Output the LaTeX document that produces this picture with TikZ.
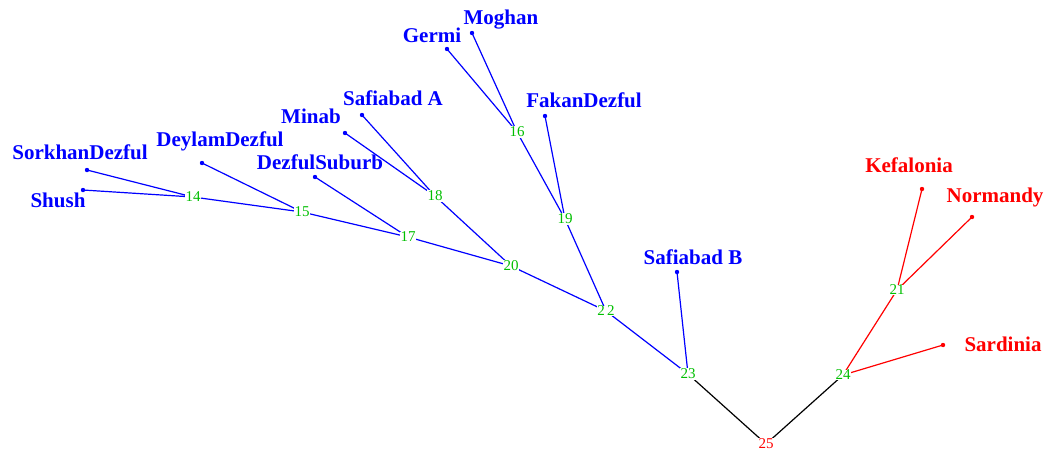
\documentclass[tikz,border=0pt]{standalone}
\usepackage{fontspec}
\setmainfont{Liberation Serif}
\begin{document}
\begin{tikzpicture}[x=1pt,y=-1pt,
  leaflab/.style={font=\fontsize{21}{21}\selectfont\bfseries, text=#1, inner sep=0pt},
  inode/.style={font=\fontsize{15}{15}\selectfont, text=green!75!black, fill=white, inner sep=0.5pt},
  rnode/.style={font=\fontsize{15}{15}\selectfont, text=red, fill=white, inner sep=0.5pt},
  bedge/.style={draw=blue, line width=1.2pt},
  redge/.style={draw=red, line width=1.2pt},
  kedge/.style={draw=black, line width=1.2pt},
  bdot/.style={fill=blue},
  rdot/.style={fill=red}]
\useasboundingbox (0,0) rectangle (1051,451);
% leaf points
\coordinate (sork) at (87,170);
\coordinate (shush) at (83,190);
\coordinate (deyl) at (202,163);
\coordinate (dsub) at (315,177);
\coordinate (minab) at (345,133);
\coordinate (safa) at (362,115);
\coordinate (germi) at (447,49);
\coordinate (moghan) at (472,33);
\coordinate (fakan) at (545,116);
\coordinate (safb) at (677,272);
\coordinate (kef) at (922,189);
\coordinate (norm) at (972,217);
\coordinate (sard) at (943,345);
% internal node positions
\coordinate (c14) at (193,197);
\coordinate (c15) at (302,212);
\coordinate (c17) at (408,237);
\coordinate (c18) at (435,196);
\coordinate (c20) at (511,266);
\coordinate (c16) at (517,132);
\coordinate (c19) at (565,219);
\coordinate (c22) at (606,311);
\coordinate (c23) at (688,374);
\coordinate (c25) at (766,444);
\coordinate (c24) at (843,375);
\coordinate (c21) at (897,290);
% edges
\path[bedge] (c14) -- (sork) (c14) -- (shush) (c15) -- (c14) (c15) -- (deyl)
  (c17) -- (c15) (c17) -- (dsub) (c18) -- (minab) (c18) -- (safa)
  (c20) -- (c17) (c20) -- (c18) (c16) -- (germi) (c16) -- (moghan)
  (c19) -- (c16) (c19) -- (fakan) (c22) -- (c20) (c22) -- (c19)
  (c23) -- (c22) (c23) -- (safb);
\path[kedge] (c25) -- (c23) (c25) -- (c24);
\path[redge] (c24) -- (c21) (c24) -- (sard) (c21) -- (kef) (c21) -- (norm);
% dots
\foreach \p in {sork,shush,deyl,dsub,minab,safa,germi,moghan,fakan,safb}
  \fill[bdot] (\p) circle (2.2);
\foreach \p in {kef,norm,sard}
  \fill[rdot] (\p) circle (2.2);
% internal labels
\node[inode] (n14) at (c14) {14};
\node[inode] (n15) at (c15) {15};
\node[inode] (n17) at (c17) {17};
\node[inode] (n18) at (c18) {18};
\node[inode] (n20) at (c20) {20};
\node[inode] (n16) at (c16) {16};
\node[inode] (n19) at (c19) {19};
\node[inode] (n22) at (c22) {2\,2};
\node[inode] (n23) at (c23) {23};
\node[rnode] (n25) at (c25) {25};
\node[inode] (n24) at (c24) {24};
\node[inode] (n21) at (c21) {21};
% leaf labels
\node[leaflab=blue] (lsork) at (80,152) {SorkhanDezful};
\node[leaflab=blue] (lshush) at (58,200) {Shush};
\node[leaflab=blue] (ldeyl) at (220,141) {DeylamDezful};
\node[leaflab=blue] (ldsub) at (320,162) {DezfulSuburb};
\node[leaflab=blue] (lminab) at (311,116) {Minab};
\node[leaflab=blue] (lsafa) at (393,98) {Safiabad A};
\node[leaflab=blue] (lgermi) at (432,35) {Germi};
\node[leaflab=blue] (lmoghan) at (501,20) {Moghan};
\node[leaflab=blue] (lfakan) at (584,100) {FakanDezful};
\node[leaflab=blue] (lsafb) at (693,257) {Safiabad B};
\node[leaflab=red] (lkef) at (909,165) {Kefalonia};
\node[leaflab=red] (lnorm) at (995,197) {Normandy};
\node[leaflab=red] (lsard) at (1003,344) {Sardinia};
\end{tikzpicture}
\end{document}
